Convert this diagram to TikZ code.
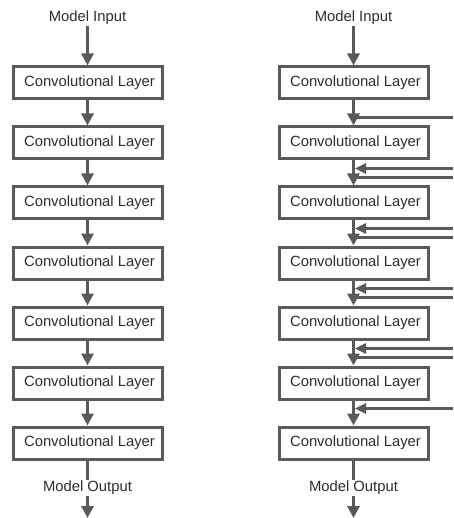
\documentclass[tikz,border=0pt]{standalone}
\usepackage{fontspec}
\setmainfont{Liberation Sans}
\usetikzlibrary{arrows.meta,calc}
\definecolor{linegray}{RGB}{90,90,90}
\definecolor{textgray}{RGB}{45,45,45}
\tikzset{
  layer/.style={draw=linegray, line width=3pt, fill=white, minimum width=149pt,
    minimum height=32pt, inner sep=0pt, text=textgray,
    font=\fontsize{14.8pt}{17pt}\selectfont},
  label/.style={text=textgray, inner sep=1pt, font=\fontsize{14.8pt}{17pt}\selectfont},
  flow/.style={draw=linegray, line width=3pt,
    -{Triangle[length=12pt,width=12pt]}},
  skipout/.style={draw=linegray, line width=2.5pt},
  skipin/.style={draw=linegray, line width=2.5pt,
    -{Triangle[length=11pt,width=10pt]}},
}
\newcommand{\layertext}{\hspace*{4pt}Convolutional Layer}
\begin{document}
\begin{tikzpicture}[x=1pt,y=-1pt]
\useasboundingbox (0,0) rectangle (453,518);
\coordinate (E) at (453,0);

% plain stack of layers
\node[label] (inL) at (87.5,18) {Model Input};
\foreach \i in {1,...,7}
  \node[layer] (L\i) at (87.5,{83+60*(\i-1)}) {\layertext};
\draw[flow] (inL.south) -- (L1.north);
\foreach \i [evaluate=\i as \j using int(\i+1)] in {1,...,6}
  \draw[flow] (L\i.south) -- (L\j.north);
\coordinate (outLend) at (87.5,518);
\draw[flow] (L7.south) -- (outLend);
\node[label, fill=white] (outL) at (87.5,488) {Model Output};

% stack of layers with skip connections
\node[label] (inR) at (353.5,18) {Model Input};
\foreach \i in {1,...,7}
  \node[layer] (R\i) at (353.5,{83+60*(\i-1)}) {\layertext};
\draw[flow] (inR.south) -- (R1.north);
\foreach \i [evaluate=\i as \j using int(\i+1)] in {1,...,6}
  \draw[flow] (R\i.south) -- (R\j.north);
\coordinate (outRend) at (353.5,518);
\draw[flow] (R7.south) -- (outRend);
\node[label, fill=white] (outR) at (353.5,488) {Model Output};

% outgoing branches
\foreach \i in {1,...,5} {
  \coordinate (o\i) at ($(R\i.south)+(0,17)$);
  \draw[skipout] (o\i) -- (o\i -| E);
}
% incoming branches
\foreach \i in {2,...,6} {
  \coordinate (n\i) at ($(R\i.south)+(1.5,8)$);
  \draw[skipin] (n\i -| E) -- (n\i);
}
\end{tikzpicture}
\end{document}
